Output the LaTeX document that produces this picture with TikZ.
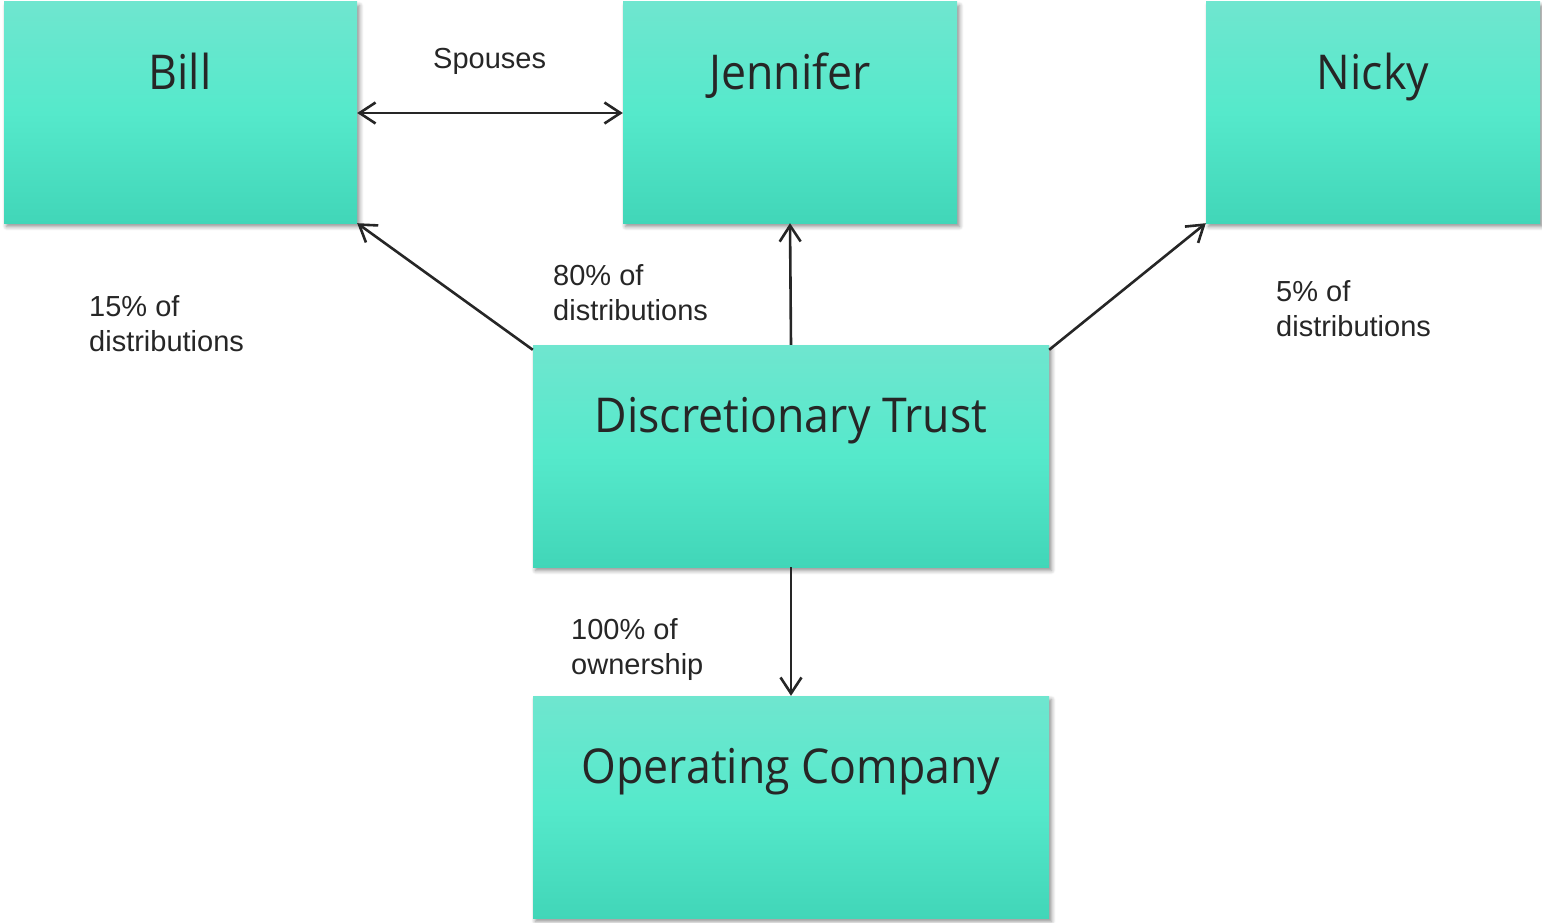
\documentclass[tikz,border=0pt]{standalone}
\usepackage{fontspec}
\setmainfont{Liberation Sans}
\newfontfamily\titlefont[FakeStretch=0.93]{Open Sans}
\usetikzlibrary{arrows.meta,shadows.blur}

\definecolor{boxtop}{HTML}{6FE6CF}
\definecolor{boxmid}{HTML}{55E9CB}
\definecolor{boxbot}{HTML}{41D6B8}
\definecolor{ink}{HTML}{262626}

\tikzset{
  entity/.style={rectangle, inner sep=0pt, draw=none,
    top color=boxtop, bottom color=boxbot, middle color=boxmid,
    blur shadow={shadow xshift=2.5pt, shadow yshift=-3.5pt,
      shadow blur steps=6, shadow blur radius=4pt, shadow opacity=45}},
  title/.style={anchor=base, inner sep=0pt, text=ink,
    font=\titlefont\fontsize{48}{56}\selectfont},
  note/.style={anchor=north west, inner sep=0pt, align=left, text=ink,
    font=\fontsize{29}{35}\selectfont},
  barb/.tip={Straight Barb[length=16pt,width=21pt,line width=2.6pt]},
  link/.style={draw=ink, line width=2.6pt, -barb},
}

\begin{document}
\begin{tikzpicture}[x=1pt,y=-1pt]
\useasboundingbox (0,0) rectangle (1542,923);

% entity boxes
\node[entity, minimum width=353pt, minimum height=221pt] (bill)  at (180.5,112.5) {};
\node[entity, minimum width=334pt, minimum height=221pt] (jen)   at (790,112.5) {};
\node[entity, minimum width=334pt, minimum height=221pt] (nicky) at (1373,112.5) {};
\node[entity, minimum width=516pt, minimum height=222pt] (trust) at (791,456) {};
\node[entity, minimum width=516pt, minimum height=222pt] (opco)  at (791,807) {};

% box titles
\node[title] (billT)  at (180,90)  {Bill};
\node[title] (jenT)   at (790,90)  {Jennifer};
\node[title] (nickyT) at (1373,90) {Nicky};
\node[title] (trustT) at (791,432) {Discretionary Trust};
\node[title] (opcoT)  at (791,783) {Operating Company};

% connectors
\draw[link, barb-barb] (bill.east |- 0,113) -- (jen.west |- 0,113);
\draw[link] (trust.north west) ++(0,5) coordinate (tl) (tl) -- (bill.south east);
\draw[link] (trust.north) -- (jen.south);
\draw[link] (trust.north east) ++(0,5) coordinate (tr) (tr) -- (nicky.south west);
\draw[link] (trust.south) -- (opco.north);

% connector labels
\node[note] (spouses) at (433,48)  {Spouses};
\node[note] (pct80)   at (553,264) {80\% of\\distributions};
\node[note] (pct15)   at (89,295)  {15\% of\\distributions};
\node[note] (pct5)    at (1276,280) {5\% of\\distributions};
\node[note] (pct100)  at (571,618) {100\% of\\ownership};
\end{tikzpicture}
\end{document}
